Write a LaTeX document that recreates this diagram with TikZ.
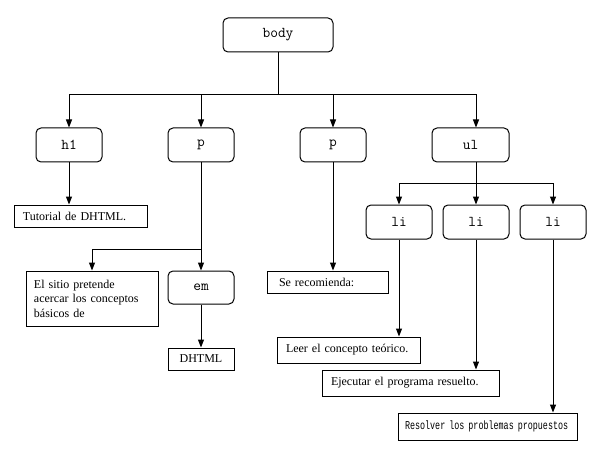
\documentclass[tikz,border=0pt]{standalone}
\usepackage{fontspec}
\setmainfont{Liberation Serif}
\newfontfamily\narrowmono[FakeStretch=0.7]{Liberation Mono}
\usetikzlibrary{arrows.meta}
\tikzset{
  tagbox/.style={draw, rounded corners=5pt, minimum height=34pt,
    inner sep=0pt, font=\ttfamily\fontsize{15}{17}\selectfont},
  txtbox/.style={draw, inner xsep=9pt, inner ysep=0pt, align=left,
    font=\fontsize{12}{14.5}\selectfont},
  arr/.style={-{Triangle[width=6pt,length=8pt]}}
}
\begin{document}
\begin{tikzpicture}[x=1pt,y=-1pt,line width=1pt]
    \useasboundingbox (0,0) rectangle (598,452);
    \node[tagbox,minimum width=110pt] (body) at (278,35) {body};
    \node[tagbox,minimum width=66pt] (h1) at (69,145) {h1};
    \node[tagbox,minimum width=66pt] (p1) at (201,145) {p};
    \node[tagbox,minimum width=66pt] (p2) at (333,145) {p};
    \node[tagbox,minimum width=77pt] (ul) at (470.5,145) {ul};
    \node[tagbox,minimum width=66pt] (li1) at (399,222) {li};
    \node[tagbox,minimum width=66pt] (li2) at (476,222) {li};
    \node[tagbox,minimum width=66pt] (li3) at (553,222) {li};
    \node[tagbox,minimum width=66pt,minimum height=33pt] (em) at (201,287.5) {em};
    \node[txtbox,text width=115pt,minimum height=22pt] (tut) at (80.5,216)
    {Tutorial de DHTML.};
    \node[txtbox,text width=116pt,minimum height=55pt,inner xsep=8pt] (sitio) at (92,298.5)
    {El sitio pretende\\acercar los conceptos\\básicos de};
    \node[txtbox,text width=48pt,minimum height=22pt,align=center] (dhtml) at (201,359)
    {DHTML};
    \node[txtbox,text width=97pt,minimum height=22pt,inner xsep=12pt] (recom) at (327.5,282)
    {Se recomienda:};
    \node[txtbox,text width=125pt,minimum height=26pt] (leer) at (348.5,350)
    {Leer el concepto teórico.};
    \node[txtbox,text width=159pt,minimum height=26pt] (ejec) at (410.5,383)
    {Ejecutar el programa resuelto.};
    \node[txtbox,text width=165pt,minimum height=27pt,inner xsep=7pt,
      font=\narrowmono\fontsize{12}{14}\selectfont] (resol) at (487.5,426.5)
    {Resolver los problemas propuestos};
    \coordinate (bus) at (278,95);
    \coordinate (pbr) at (201,249);
    \coordinate (ubus) at (476,183);
    \draw (body.south) -- (bus);
    \draw[arr] (bus) -| (h1.north);
    \draw[arr] (bus) -| (p1.north);
    \draw[arr] (bus) -| (p2.north);
    \draw[arr] (bus) -| (ubus |- ul.north);
    \draw[arr] (h1.south) -- (h1.south |- tut.north);
    \draw[arr] (p1.south) -- (em.north);
    \draw[arr] (pbr) -| (sitio.north);
    \draw[arr] (em.south) -- (dhtml.north);
    \draw[arr] (p2.south) -- (p2.south |- recom.north);
    \draw (ubus |- ul.south) -- (ubus);
    \draw[arr] (ubus) -| (li1.north);
    \draw[arr] (ubus) -- (li2.north);
    \draw[arr] (ubus) -| (li3.north);
    \draw[arr] (li1.south) -- (li1.south |- leer.north);
    \draw[arr] (li2.south) -- (li2.south |- ejec.north);
    \draw[arr] (li3.south) -- (li3.south |- resol.north);
\end{tikzpicture}
\end{document}
